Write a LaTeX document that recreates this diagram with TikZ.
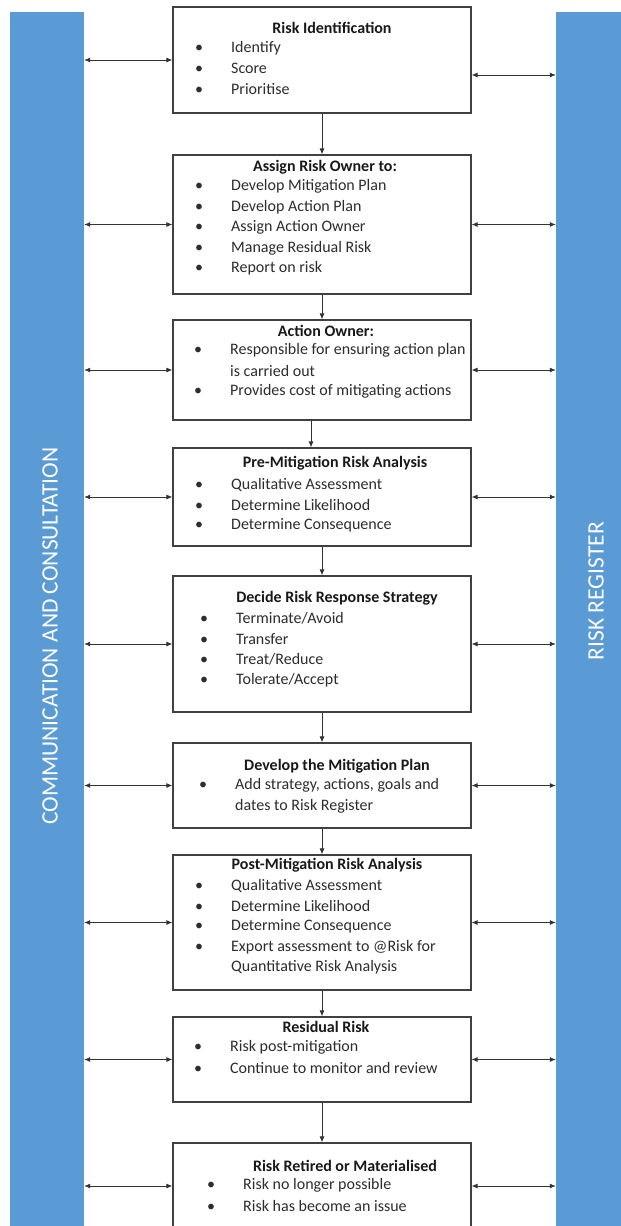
\documentclass[tikz,border=0pt]{standalone}
\usepackage{fontspec}
\setmainfont{Carlito}
\usetikzlibrary{arrows.meta, positioning}
\definecolor{barblue}{RGB}{91,155,213}
\definecolor{boxline}{RGB}{64,64,64}
\definecolor{inktext}{RGB}{45,45,45}
\newcommand{\bl}{\makebox[36pt][l]{\textbullet}}
\newcommand{\nb}{\makebox[36pt][l]{}}

\begin{document}
\begin{tikzpicture}[x=1pt, y=-1pt,
    every node/.style={font=\fontsize{16}{18}\selectfont},
    stepbox/.style={draw=boxline, line width=1.2pt, fill=white,
                    minimum width=298pt, inner sep=0pt},
    sidebar/.style={fill=barblue, draw=none, inner sep=0pt},
    sidetext/.style={text=white, rotate=90, inner sep=0pt,
                     font=\fontsize{23.5}{26}\selectfont},
    title/.style={text=black!90, inner sep=0pt, font=\fontsize{16}{18}\selectfont\bfseries},
    item/.style={text=inktext, anchor=west, inner sep=0pt},
    twoway/.style={{Latex[length=6pt,width=5pt]}-{Latex[length=6pt,width=5pt]},
                   draw=black!80, line width=0.8pt},
    oneway/.style={-{Latex[length=6pt,width=5pt]}, draw=black!80, line width=0.8pt}]
  \useasboundingbox (0,0) rectangle (621,1226);

  % side bars
  \node[sidebar, minimum width=74pt, minimum height=1216pt] (cc) at (47,620) {};
  \node[sidebar, minimum width=69pt, minimum height=1216pt] (rr) at (590.5,620) {};
  \node[sidetext] (cclabel) at (50,636) {COMMUNICATION AND CONSULTATION};
  \node[sidetext] (rrlabel) at (596,591) {RISK REGISTER};

  % process boxes
  \node[stepbox, minimum height=106pt] (b1) at (322,60) {};
  \node[stepbox, minimum height=139pt] (b2) at (322,224.5) {};
  \node[stepbox, minimum height=100pt] (b3) at (322,370) {};
  \node[stepbox, minimum height=98pt]  (b4) at (322,497) {};
  \node[stepbox, minimum height=136pt] (b5) at (322,644) {};
  \node[stepbox, minimum height=85pt]  (b6) at (322,785.5) {};
  \node[stepbox, minimum height=135pt] (b7) at (322,922.5) {};
  \node[stepbox, minimum height=85pt]  (b8) at (322,1059.5) {};
  \node[stepbox, minimum height=86pt]  (b9) at (322,1186) {};

  % box texts
  \node[title] (t1) at (332,28) {Risk Identification};
  \foreach \txt [count=\i] in {\bl Identify, \bl Score, \bl Prioritise}
    \node[item] (i1-\i) at (195,27.5+20.5*\i) {\txt};

  \node[title] (t2) at (325,167) {Assign Risk Owner to:};
  \foreach \txt [count=\i] in {\bl Develop Mitigation Plan, \bl Develop Action Plan,
      \bl Assign Action Owner, \bl Manage Residual Risk, \bl Report on risk}
    \node[item] (i2-\i) at (195,166+20.5*\i) {\txt};

  \node[title] (t3) at (326,331) {Action Owner:};
  \foreach \txt [count=\i] in {\bl Responsible for ensuring action plan,
      \nb is carried out, \bl Provides cost of mitigating actions}
    \node[item] (i3-\i) at (194,329.5+20.5*\i) {\txt};

  \node[title] (t4) at (335,463) {Pre-Mitigation Risk Analysis};
  \foreach \txt [count=\i] in {\bl Qualitative Assessment, \bl Determine Likelihood,
      \bl Determine Consequence}
    \node[item] (i4-\i) at (195,464+20.5*\i) {\txt};

  \node[title] (t5) at (337,598) {Decide Risk Response Strategy};
  \foreach \txt [count=\i] in {\bl Terminate/Avoid, \bl Transfer, \bl Treat/Reduce,
      \bl Tolerate/Accept}
    \node[item] (i5-\i) at (200,598+20.5*\i) {\txt};

  \node[title] (t6) at (337,766) {Develop the Mitigation Plan};
  \foreach \txt [count=\i] in {{\bl Add strategy, actions, goals and},
      \nb dates to Risk Register}
    \node[item] (i6-\i) at (199,765+20.5*\i) {\txt};

  \node[title] (t7) at (327,865) {Post-Mitigation Risk Analysis};
  \foreach \txt [count=\i] in {\bl Qualitative Assessment, \bl Determine Likelihood,
      \bl Determine Consequence, \bl Export assessment to @Risk for,
      \nb Quantitative Risk Analysis}
    \node[item] (i7-\i) at (195,865+20.5*\i) {\txt};

  \node[title] (t8) at (326,1027) {Residual Risk};
  \foreach \txt [count=\i] in {\bl Risk post-mitigation, \bl Continue to monitor and review}
    \node[item] (i8-\i) at (194,1027+20.5*\i) {\txt};

  \node[title] (t9) at (345,1166) {Risk Retired or Materialised};
  \foreach \txt [count=\i] in {\bl Risk no longer possible, \bl Risk has become an issue}
    \node[item] (i9-\i) at (207,1164.5+20.5*\i) {\txt};

  % flow between boxes
  \draw[oneway] (b1) -- (b2);
  \draw[oneway] (b2) -- (b3);
  \coordinate (d3) at ([xshift=-11pt]b3.south);
  \draw[oneway] (d3) -- (d3 |- b4.north);
  \foreach \a/\b in {b4/b5, b5/b6, b6/b7, b7/b8, b8/b9}
    \draw[oneway] (\a) -- (\b);

  % links to the side bars
  \foreach \n in {b1,b2,b3,b4,b5,b6,b7,b8,b9}
    \draw[twoway] (cc.east |- \n.west) -- (\n.west);
  \coordinate (r1) at ([yshift=-15pt]b1.east);
  \draw[twoway] (r1) -- (rr.west |- r1);
  \foreach \n in {b2,b3,b4,b5,b6,b7,b8,b9}
    \draw[twoway] (\n.east) -- (rr.west |- \n.east);
\end{tikzpicture}
\end{document}
